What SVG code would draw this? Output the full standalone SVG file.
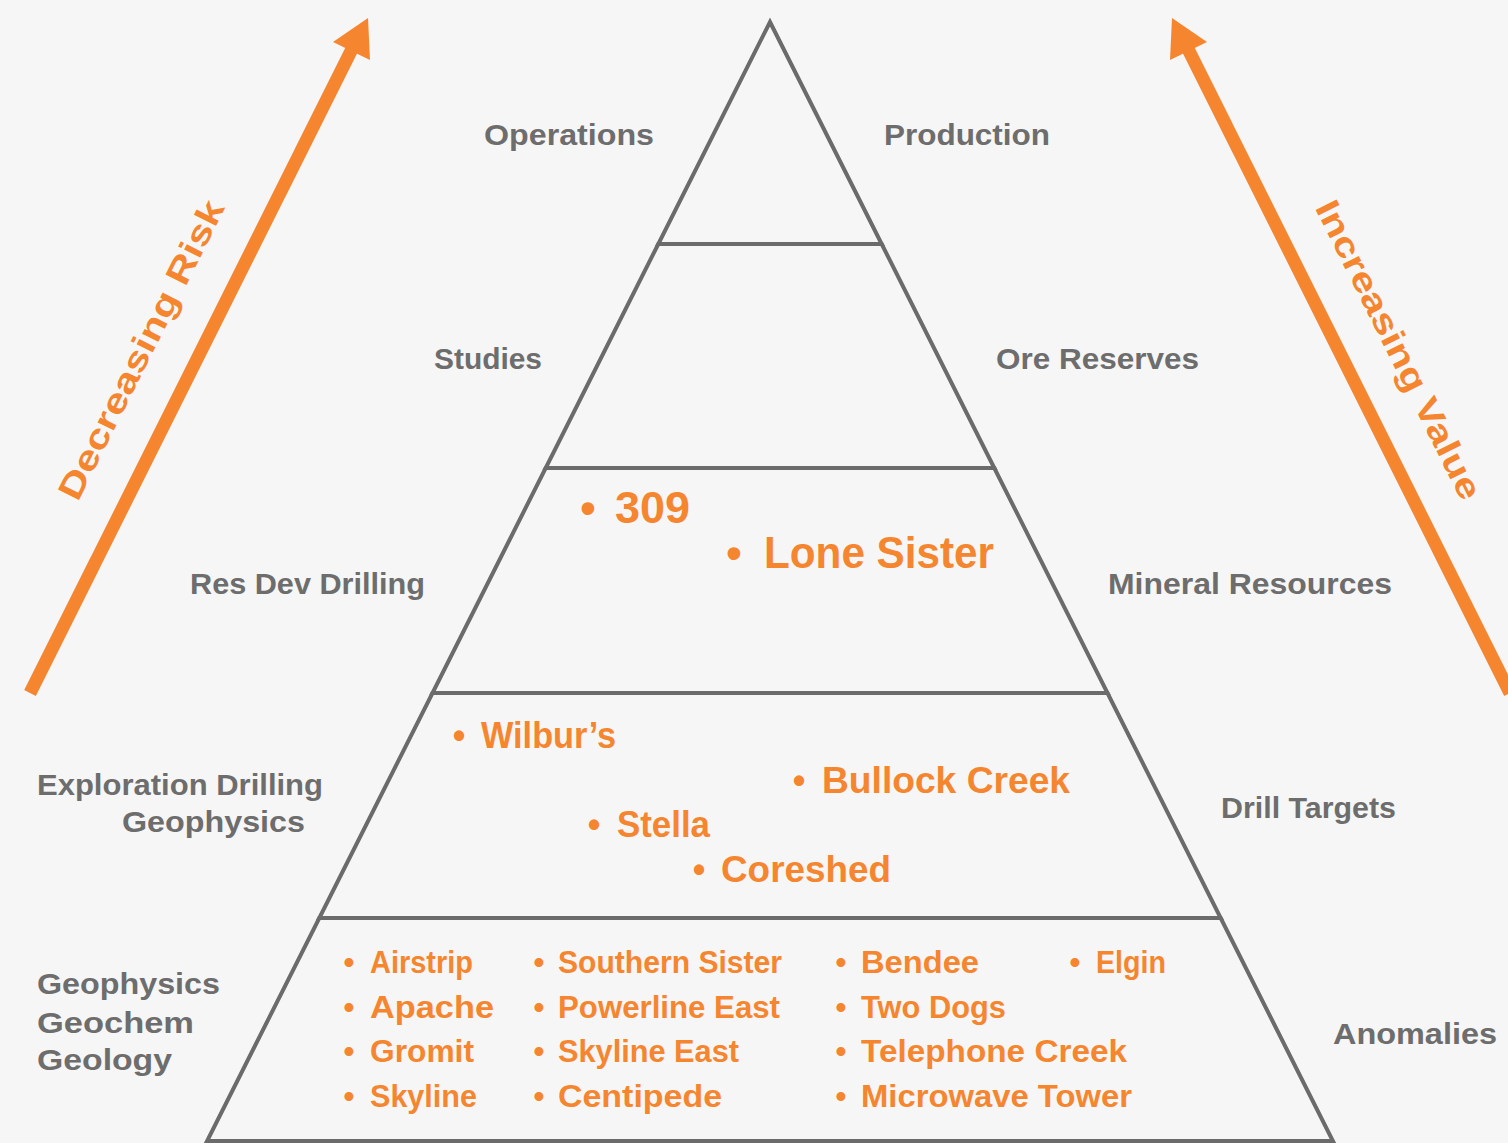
<svg xmlns="http://www.w3.org/2000/svg" width="1508" height="1143" viewBox="0 0 1508 1143">
<style>
.tier{fill:none;stroke:#6b6b6b;stroke-width:4;stroke-linejoin:miter}
.lbl{font-family:"Liberation Sans",Arial,sans-serif;font-weight:bold;font-size:30px;fill:#6d6d6d}
.itm{font-family:"Liberation Sans",Arial,sans-serif;font-weight:bold;fill:#f5862f}
.big{font-size:44px}
.mid{font-size:36px}
.sm{font-size:31px}
.b{text-anchor:middle}
.shaft{stroke:#f5862f;stroke-width:13;fill:none;stroke-linecap:butt}
.head{fill:#f5862f}
.axis{font-family:"Liberation Sans",Arial,sans-serif;font-weight:bold;font-size:34px;fill:#f5862f;text-anchor:middle}
</style>
<rect x="0" y="0" width="1508" height="1143" fill="#f6f6f6"/>

<g id="connectors">
  <g id="arrow-risk">
    <line class="shaft" x1="30" y1="693" x2="353" y2="47"/>
    <polygon class="head" points="368,18 333,42 370,60"/>
  </g>
  <g id="arrow-value">
    <line class="shaft" x1="1510" y1="693" x2="1187" y2="47"/>
    <polygon class="head" points="1172,18 1207,42 1170,60"/>
  </g>
</g>

<g id="axis-labels">
  <text class="axis" transform="translate(151.6,355) rotate(-63.43)" x="0" y="0" textLength="330" lengthAdjust="spacingAndGlyphs">Decreasing Risk</text>
  <text class="axis" transform="translate(1388.4,355) rotate(63.43)" x="0" y="0" textLength="330" lengthAdjust="spacingAndGlyphs">Increasing Value</text>
</g>

<g id="tier-operations">
  <polygon class="tier" points="770,22 881.7,244 658.3,244"/>
  <text class="lbl" x="484" y="145" textLength="170" lengthAdjust="spacingAndGlyphs">Operations</text>
  <text class="lbl" x="884" y="145" textLength="166" lengthAdjust="spacingAndGlyphs">Production</text>
</g>

<g id="tier-studies">
  <polygon class="tier" points="658.3,244 881.7,244 994.3,468 545.7,468"/>
  <text class="lbl" x="434" y="369" textLength="108" lengthAdjust="spacingAndGlyphs">Studies</text>
  <text class="lbl" x="996" y="369" textLength="203" lengthAdjust="spacingAndGlyphs">Ore Reserves</text>
</g>

<g id="tier-resources">
  <polygon class="tier" points="545.7,468 994.3,468 1107.5,693 432.5,693"/>
  <text class="lbl" x="190" y="594" textLength="235" lengthAdjust="spacingAndGlyphs">Res Dev Drilling</text>
  <text class="lbl" x="1108" y="594" textLength="284" lengthAdjust="spacingAndGlyphs">Mineral Resources</text>
  <text class="itm big" y="523"><tspan class="b" x="588">•</tspan><tspan x="615" textLength="75" lengthAdjust="spacingAndGlyphs">309</tspan></text>
  <text class="itm big" y="568"><tspan class="b" x="734">•</tspan><tspan x="764" textLength="230" lengthAdjust="spacingAndGlyphs">Lone Sister</tspan></text>
</g>

<g id="tier-targets">
  <polygon class="tier" points="432.5,693 1107.5,693 1220.7,918 319.3,918"/>
  <text class="lbl" x="37" y="795" textLength="286" lengthAdjust="spacingAndGlyphs">Exploration Drilling</text>
  <text class="lbl" x="122" y="832" textLength="183" lengthAdjust="spacingAndGlyphs">Geophysics</text>
  <text class="lbl" x="1221" y="818" textLength="175" lengthAdjust="spacingAndGlyphs">Drill Targets</text>
  <text class="itm mid" y="748"><tspan class="b" x="459">•</tspan><tspan x="481" textLength="135" lengthAdjust="spacingAndGlyphs">Wilbur’s</tspan></text>
  <text class="itm mid" y="793"><tspan class="b" x="799">•</tspan><tspan x="822" textLength="248" lengthAdjust="spacingAndGlyphs">Bullock Creek</tspan></text>
  <text class="itm mid" y="837"><tspan class="b" x="594">•</tspan><tspan x="617" textLength="93" lengthAdjust="spacingAndGlyphs">Stella</tspan></text>
  <text class="itm mid" y="882"><tspan class="b" x="699">•</tspan><tspan x="721" textLength="170" lengthAdjust="spacingAndGlyphs">Coreshed</tspan></text>
</g>

<g id="tier-anomalies">
  <polygon class="tier" points="319.3,918 1220.7,918 1332.9,1141 207.1,1141"/>
  <text class="lbl" x="37" y="994" textLength="183" lengthAdjust="spacingAndGlyphs">Geophysics</text>
  <text class="lbl" x="37" y="1033" textLength="157" lengthAdjust="spacingAndGlyphs">Geochem</text>
  <text class="lbl" x="37" y="1070" textLength="135" lengthAdjust="spacingAndGlyphs">Geology</text>
  <text class="lbl" x="1333" y="1044" textLength="164" lengthAdjust="spacingAndGlyphs">Anomalies</text>

  <text class="itm sm" y="973"><tspan class="b" x="349">•</tspan><tspan x="370" textLength="103" lengthAdjust="spacingAndGlyphs">Airstrip</tspan></text>
  <text class="itm sm" y="1018"><tspan class="b" x="349">•</tspan><tspan x="370" textLength="124" lengthAdjust="spacingAndGlyphs">Apache</tspan></text>
  <text class="itm sm" y="1062"><tspan class="b" x="349">•</tspan><tspan x="370" textLength="104" lengthAdjust="spacingAndGlyphs">Gromit</tspan></text>
  <text class="itm sm" y="1107"><tspan class="b" x="349">•</tspan><tspan x="370" textLength="107" lengthAdjust="spacingAndGlyphs">Skyline</tspan></text>

  <text class="itm sm" y="973"><tspan class="b" x="539">•</tspan><tspan x="558" textLength="224" lengthAdjust="spacingAndGlyphs">Southern Sister</tspan></text>
  <text class="itm sm" y="1018"><tspan class="b" x="539">•</tspan><tspan x="558" textLength="222" lengthAdjust="spacingAndGlyphs">Powerline East</tspan></text>
  <text class="itm sm" y="1062"><tspan class="b" x="539">•</tspan><tspan x="558" textLength="181" lengthAdjust="spacingAndGlyphs">Skyline East</tspan></text>
  <text class="itm sm" y="1107"><tspan class="b" x="539">•</tspan><tspan x="558" textLength="164" lengthAdjust="spacingAndGlyphs">Centipede</tspan></text>

  <text class="itm sm" y="973"><tspan class="b" x="841">•</tspan><tspan x="861" textLength="118" lengthAdjust="spacingAndGlyphs">Bendee</tspan></text>
  <text class="itm sm" y="1018"><tspan class="b" x="841">•</tspan><tspan x="861" textLength="145" lengthAdjust="spacingAndGlyphs">Two Dogs</tspan></text>
  <text class="itm sm" y="1062"><tspan class="b" x="841">•</tspan><tspan x="861" textLength="266" lengthAdjust="spacingAndGlyphs">Telephone Creek</tspan></text>
  <text class="itm sm" y="1107"><tspan class="b" x="841">•</tspan><tspan x="861" textLength="271" lengthAdjust="spacingAndGlyphs">Microwave Tower</tspan></text>

  <text class="itm sm" y="973"><tspan class="b" x="1075">•</tspan><tspan x="1096" textLength="70" lengthAdjust="spacingAndGlyphs">Elgin</tspan></text>
</g>
</svg>
